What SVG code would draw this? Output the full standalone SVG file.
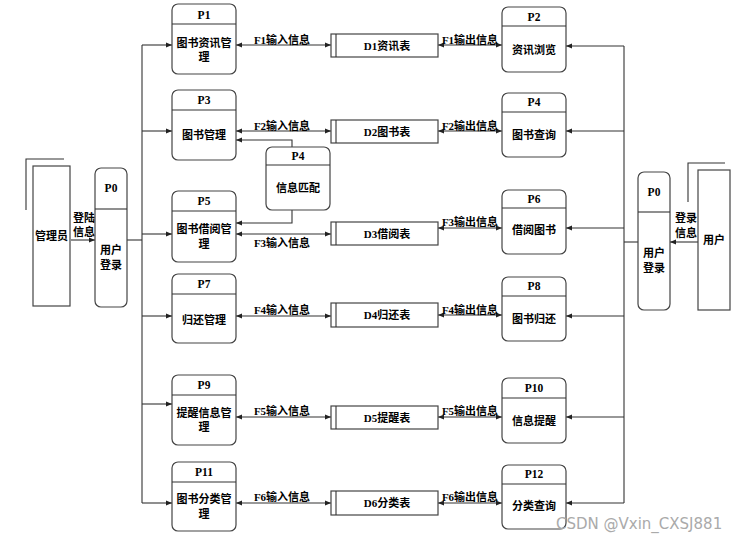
<svg xmlns="http://www.w3.org/2000/svg" width="749" height="542" viewBox="0 0 749 542">
<defs>
<marker id="ah" viewBox="0 0 6 6" refX="6" refY="3" markerWidth="6" markerHeight="6" markerUnits="userSpaceOnUse" orient="auto-start-reverse">
<path d="M0,0.5 L6,3 L0,5.5 Z" fill="#222"/>
</marker>
</defs>
<style>
.box{fill:#fff;stroke:#444;stroke-width:1.2}
.ln{fill:none;stroke:#333;stroke-width:1.1}
.pt{font-family:"Liberation Serif","Noto Sans CJK SC",serif;font-weight:bold;font-size:11.5px;fill:#000;text-anchor:middle}
.tx{font-family:"Liberation Serif","Noto Sans CJK SC",serif;font-weight:bold;font-size:11px;fill:#000;text-anchor:middle}
.lb{font-family:"Liberation Serif","Noto Sans CJK SC",serif;font-weight:bold;font-size:11px;fill:#000;text-anchor:middle}
.wm{font-family:"DejaVu Sans",sans-serif;font-size:15px;fill:#aaa}
</style>
<rect width="749" height="542" fill="#fff"/>

<g id="connectors">
<path class="ln" d="M71,240 L95,240" marker-end="url(#ah)"/>
<path class="ln" d="M127,240 L142,240"/>
<path class="ln" d="M142,45 L142,503"/>
<path class="ln" d="M142,45 L172,45" marker-end="url(#ah)"/>
<path class="ln" d="M142,131 L172,131" marker-end="url(#ah)"/>
<path class="ln" d="M142,234 L172,234" marker-end="url(#ah)"/>
<path class="ln" d="M142,316 L172,316" marker-end="url(#ah)"/>
<path class="ln" d="M142,404 L172,404" marker-end="url(#ah)"/>
<path class="ln" d="M142,503 L172,503" marker-end="url(#ah)"/>
<path class="ln" d="M236,45 L331,45" marker-start="url(#ah)" marker-end="url(#ah)"/>
<path class="ln" d="M236,131 L331,131" marker-start="url(#ah)" marker-end="url(#ah)"/>
<path class="ln" d="M236,234 L331,234" marker-start="url(#ah)" marker-end="url(#ah)"/>
<path class="ln" d="M236,316 L331,316" marker-start="url(#ah)" marker-end="url(#ah)"/>
<path class="ln" d="M236,417 L331,417" marker-start="url(#ah)" marker-end="url(#ah)"/>
<path class="ln" d="M236,503 L331,503" marker-start="url(#ah)" marker-end="url(#ah)"/>
<path class="ln" d="M438,45 L502,45" marker-start="url(#ah)" marker-end="url(#ah)"/>
<path class="ln" d="M438,131 L502,131" marker-start="url(#ah)" marker-end="url(#ah)"/>
<path class="ln" d="M438,228 L502,228" marker-start="url(#ah)" marker-end="url(#ah)"/>
<path class="ln" d="M438,315 L502,315" marker-start="url(#ah)" marker-end="url(#ah)"/>
<path class="ln" d="M438,417 L502,417" marker-start="url(#ah)" marker-end="url(#ah)"/>
<path class="ln" d="M438,503 L502,503" marker-start="url(#ah)" marker-end="url(#ah)"/>
<path class="ln" d="M292,147 L292,140 L236,140" marker-end="url(#ah)"/>
<path class="ln" d="M292,210 L292,223 L236,223" marker-end="url(#ah)"/>
<path class="ln" d="M698,242 L670,242" marker-end="url(#ah)"/>
<path class="ln" d="M638,242 L624,242"/>
<path class="ln" d="M624,46 L624,503"/>
<path class="ln" d="M624,46 L566,46" marker-end="url(#ah)"/>
<path class="ln" d="M624,131 L566,131" marker-end="url(#ah)"/>
<path class="ln" d="M624,228 L566,228" marker-end="url(#ah)"/>
<path class="ln" d="M624,316 L566,316" marker-end="url(#ah)"/>
<path class="ln" d="M624,417 L566,417" marker-end="url(#ah)"/>
<path class="ln" d="M624,503 L566,503" marker-end="url(#ah)"/>
</g>

<g id="labels">
<text class="lb" x="84" y="222">登陆</text>
<text class="lb" x="84" y="236">信息</text>
<text class="lb" x="686" y="222">登录</text>
<text class="lb" x="686" y="237">信息</text>
<text class="lb" x="282" y="44">F1输入信息</text>
<text class="lb" x="282" y="130">F2输入信息</text>
<text class="lb" x="282" y="247">F3输入信息</text>
<text class="lb" x="282" y="314">F4输入信息</text>
<text class="lb" x="282" y="415">F5输入信息</text>
<text class="lb" x="282" y="501">F6输入信息</text>
<text class="lb" x="470" y="44">F1输出信息</text>
<text class="lb" x="470" y="130">F2输出信息</text>
<text class="lb" x="470" y="226">F3输出信息</text>
<text class="lb" x="470" y="314">F4输出信息</text>
<text class="lb" x="470" y="415">F5输出信息</text>
<text class="lb" x="470" y="501">F6输出信息</text>
</g>

<g id="admin">
<path class="ln" d="M26,210 L26,159 L64,159"/>
<rect class="box" x="33" y="166" width="37" height="140"/>
<text class="tx" x="51.5" y="240">管理员</text>
</g>
<g id="user">
<path class="ln" d="M688,202 L688,163 L725,163"/>
<rect class="box" x="698" y="170" width="32" height="140"/>
<text class="tx" x="714" y="244">用户</text>
</g>

<g id="p0-left">
<rect class="box" x="95" y="168" width="32" height="139" rx="6"/>
<line class="ln" x1="95" y1="209" x2="127" y2="209"/>
<text class="pt" x="111" y="192">P0</text>
<text class="tx" x="111" y="254">用户</text>
<text class="tx" x="111" y="269">登录</text>
</g>
<g id="p0-right">
<rect class="box" x="638" y="172" width="32" height="138" rx="6"/>
<line class="ln" x1="638" y1="212" x2="670" y2="212"/>
<text class="pt" x="654" y="196">P0</text>
<text class="tx" x="654" y="257">用户</text>
<text class="tx" x="654" y="272">登录</text>
</g>

<g id="p1">
<rect class="box" x="172" y="4" width="64" height="70" rx="6"/>
<line class="ln" x1="172" y1="24" x2="236" y2="24"/>
<text class="pt" x="204" y="19">P1</text>
<text class="tx" x="204" y="47">图书资讯管</text>
<text class="tx" x="204" y="61">理</text>
</g>
<g id="p3">
<rect class="box" x="172" y="90" width="64" height="70" rx="6"/>
<line class="ln" x1="172" y1="110" x2="236" y2="110"/>
<text class="pt" x="204" y="104">P3</text>
<text class="tx" x="204" y="139">图书管理</text>
</g>
<g id="p4-match">
<rect class="box" x="266" y="147" width="64" height="63" rx="6"/>
<line class="ln" x1="266" y1="165" x2="330" y2="165"/>
<text class="pt" x="298" y="160">P4</text>
<text class="tx" x="298" y="192">信息匹配</text>
</g>
<g id="p5">
<rect class="box" x="172" y="191" width="64" height="71" rx="6"/>
<line class="ln" x1="172" y1="211" x2="236" y2="211"/>
<text class="pt" x="204" y="205">P5</text>
<text class="tx" x="204" y="233">图书借阅管</text>
<text class="tx" x="204" y="248">理</text>
</g>
<g id="p7">
<rect class="box" x="172" y="274" width="64" height="69" rx="6"/>
<line class="ln" x1="172" y1="294" x2="236" y2="294"/>
<text class="pt" x="204" y="288">P7</text>
<text class="tx" x="204" y="324">归还管理</text>
</g>
<g id="p9">
<rect class="box" x="172" y="375" width="64" height="70" rx="6"/>
<line class="ln" x1="172" y1="395" x2="236" y2="395"/>
<text class="pt" x="204" y="389">P9</text>
<text class="tx" x="204" y="417">提醒信息管</text>
<text class="tx" x="204" y="431">理</text>
</g>
<g id="p11">
<rect class="box" x="172" y="462" width="64" height="69" rx="6"/>
<line class="ln" x1="172" y1="482" x2="236" y2="482"/>
<text class="pt" x="204" y="476">P11</text>
<text class="tx" x="204" y="503">图书分类管</text>
<text class="tx" x="204" y="518">理</text>
</g>

<g id="d1"><rect class="box" x="331" y="34" width="107" height="23"/><line class="ln" x1="336" y1="34" x2="336" y2="57"/><text class="tx" x="387" y="50">D1资讯表</text></g>
<g id="d2"><rect class="box" x="331" y="120" width="107" height="23"/><line class="ln" x1="336" y1="120" x2="336" y2="143"/><text class="tx" x="387" y="136">D2图书表</text></g>
<g id="d3"><rect class="box" x="331" y="222" width="107" height="23"/><line class="ln" x1="336" y1="222" x2="336" y2="245"/><text class="tx" x="387" y="238">D3借阅表</text></g>
<g id="d4"><rect class="box" x="331" y="303" width="107" height="24"/><line class="ln" x1="336" y1="303" x2="336" y2="327"/><text class="tx" x="387" y="319">D4归还表</text></g>
<g id="d5"><rect class="box" x="331" y="406" width="107" height="23"/><line class="ln" x1="336" y1="406" x2="336" y2="429"/><text class="tx" x="387" y="422">D5提醒表</text></g>
<g id="d6"><rect class="box" x="331" y="491" width="107" height="24"/><line class="ln" x1="336" y1="491" x2="336" y2="515"/><text class="tx" x="387" y="507">D6分类表</text></g>

<g id="p2">
<rect class="box" x="502" y="7" width="64" height="65" rx="6"/>
<line class="ln" x1="502" y1="26" x2="566" y2="26"/>
<text class="pt" x="534" y="21">P2</text>
<text class="tx" x="534" y="54">资讯浏览</text>
</g>
<g id="p4-query">
<rect class="box" x="502" y="93" width="64" height="64" rx="6"/>
<line class="ln" x1="502" y1="112" x2="566" y2="112"/>
<text class="pt" x="534" y="106">P4</text>
<text class="tx" x="534" y="139">图书查询</text>
</g>
<g id="p6">
<rect class="box" x="502" y="190" width="64" height="64" rx="6"/>
<line class="ln" x1="502" y1="208" x2="566" y2="208"/>
<text class="pt" x="534" y="203">P6</text>
<text class="tx" x="534" y="234">借阅图书</text>
</g>
<g id="p8">
<rect class="box" x="502" y="277" width="64" height="64" rx="6"/>
<line class="ln" x1="502" y1="296" x2="566" y2="296"/>
<text class="pt" x="534" y="290">P8</text>
<text class="tx" x="534" y="323">图书归还</text>
</g>
<g id="p10">
<rect class="box" x="502" y="378" width="64" height="65" rx="6"/>
<line class="ln" x1="502" y1="398" x2="566" y2="398"/>
<text class="pt" x="534" y="392">P10</text>
<text class="tx" x="534" y="425">信息提醒</text>
</g>
<g id="p12">
<rect class="box" x="502" y="465" width="64" height="64" rx="6"/>
<line class="ln" x1="502" y1="484" x2="566" y2="484"/>
<text class="pt" x="534" y="478">P12</text>
<text class="tx" x="534" y="510">分类查询</text>
</g>

<text class="wm" x="556" y="529">CSDN @Vxin_CXSJ881</text>
</svg>
